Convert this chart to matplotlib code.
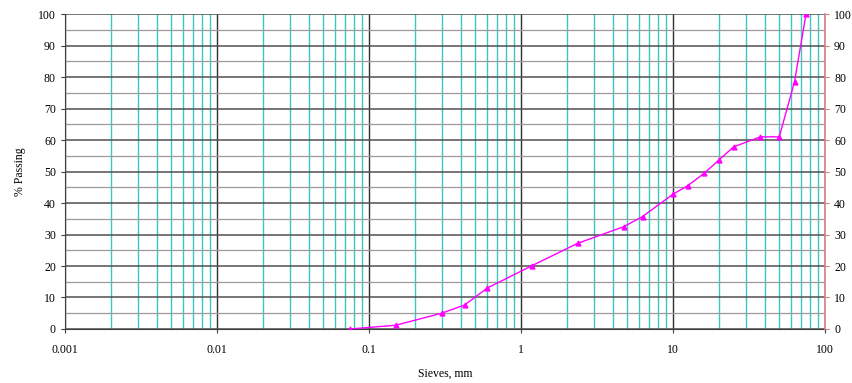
import matplotlib.pyplot as plt
from matplotlib.ticker import LogLocator, FixedLocator, NullFormatter
import numpy as np

# Sieve analysis: sieve size (mm) vs percent passing
sieve_mm = [0.075, 0.15, 0.3, 0.425, 0.6, 1.18, 2.36, 4.75, 6.3, 10.0,
            12.5, 16.0, 20.0, 25.0, 37.5, 50.0, 63.0, 75.0]
passing = [0.0, 1.2, 5.0, 7.6, 13.0, 20.1, 27.2, 32.5, 35.7, 42.8,
           45.5, 49.4, 53.6, 57.8, 61.0, 61.0, 78.5, 100.0]

x_ticks = [0.001, 0.01, 0.1, 1, 10, 100]
x_tick_labels = ["0.001", "0.01", "0.1", "1", "10", "100"]
y_ticks = list(range(0, 101, 10))

plt.rcParams['font.family'] = ['Liberation Serif', 'DejaVu Serif']

fig = plt.figure(figsize=(8.53, 3.83), dpi=100)
ax = fig.add_axes([0.0762, 0.141, 0.891, 0.8224])

ax.set_xscale('log')
ax.set_xlim(0.001, 100)
ax.set_ylim(0, 100)

ax.set_xticks(x_ticks)
ax.set_xticklabels(x_tick_labels)
ax.xaxis.set_minor_locator(LogLocator(base=10, subs=np.arange(2, 10)))
ax.xaxis.set_minor_formatter(NullFormatter())
ax.set_yticks(y_ticks)
ax.yaxis.set_minor_locator(FixedLocator(np.arange(5, 100, 10)))

# grid: black decades, cyan sub-decades, grey horizontal lines
ax.grid(True, which='major', axis='x', color='#303030', lw=1.0)
ax.grid(True, which='minor', axis='x', color='#3cc8c0', lw=1.0)
ax.grid(True, which='major', axis='y', color='#505050', lw=1.1)
ax.grid(True, which='minor', axis='y', color='#9a9a9a', lw=0.9)
ax.set_axisbelow(True)

ax.plot(sieve_mm, passing, color='#ff00ff', lw=1.0, marker='^', ms=3.5,
        mec='#ff00ff', mfc='#ff00ff', zorder=3)

ax.tick_params(axis='both', which='major', labelsize=8.5, length=3,
               direction='out', color='#404040')
ax.tick_params(axis='x', which='minor', length=0)
ax.tick_params(axis='y', which='minor', length=0)
ax.tick_params(axis='x', pad=8)

for side in ['top', 'right']:
    ax.spines[side].set_visible(False)
ax.spines['left'].set_color('#404040')
ax.spines['bottom'].set_color('#404040')

# secondary percent scale on the right
ax2 = ax.twinx()
ax2.set_ylim(0, 100)
ax2.set_yticks(y_ticks)
ax2.tick_params(axis='y', labelsize=8.5, length=3, direction='out',
                color='#d08080')
for side in ['top', 'left', 'bottom']:
    ax2.spines[side].set_visible(False)
ax2.spines['right'].set_color('#d88080')
ax2.spines['right'].set_linewidth(1.2)

ax.set_xlabel('Sieves, mm', fontsize=8.5, labelpad=8)
ax.set_ylabel('% Passing', fontsize=8.5, labelpad=9)

fig.savefig('out.png', dpi=100)
